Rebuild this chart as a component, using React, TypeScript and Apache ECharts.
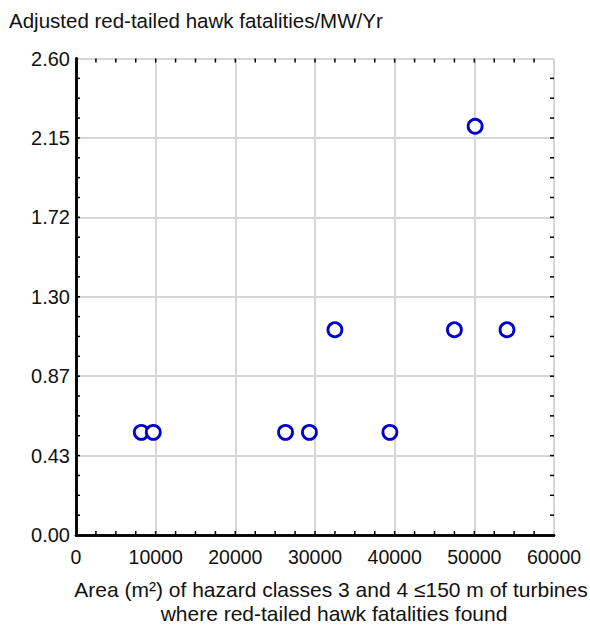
import React, { useEffect, useRef } from "react";
import * as echarts from "echarts";

const areaValues = [8200, 9700, 26300, 29300, 32500, 39400, 47500, 50100, 54100];
const fatalityValues = [0.56, 0.56, 0.56, 0.56, 1.12, 0.56, 1.12, 2.23, 1.12];
const yTickLabels = ["0.00", "0.43", "0.87", "1.30", "1.72", "2.15", "2.60"];
const xTickLabels = ["0", "10000", "20000", "30000", "40000", "50000", "60000"];
const yTitle = "Adjusted red-tailed hawk fatalities/MW/Yr";
const xTitleLines = [
  "Area (m\u00B2) of hazard classes 3 and 4 \u2264150 m of turbines",
  "where red-tailed hawk fatalities found",
];

const FONT = "'Liberation Sans', Arial, Helvetica, sans-serif";
const X_MAX = 60000;
const X_STEP = 10000;
const Y_MAX = 2.6;
const Y_STEP = Y_MAX / 6;
const MINOR_SPLIT = 4;
const TICK_LEN = 4;

// positions of the small inward ticks (every quarter of a major interval)
const xMinorTicks: number[] = [];
for (let i = 1; i < (X_MAX / X_STEP) * MINOR_SPLIT; i++) xMinorTicks.push((i * X_STEP) / MINOR_SPLIT);
const yMinorTicks: number[] = [];
for (let i = 1; i < 6 * MINOR_SPLIT; i++) yMinorTicks.push((i * Y_STEP) / MINOR_SPLIT);

export default function App() {
  const ref = useRef<HTMLDivElement>(null);
  useEffect(() => {
    if (!ref.current) return;
    const chart = echarts.init(ref.current, null, { renderer: "svg" });
    const frameLine = () => ({ show: true, lineStyle: { color: "#000", width: 2.5 } });
    const grid = () => ({ show: true, lineStyle: { color: "#d6d6d6", width: 2 } });
    const xBase = { type: "value", min: 0, max: X_MAX, interval: X_STEP };
    const yBase = { type: "value", min: 0, max: Y_MAX, interval: Y_STEP };
    const tickStyle = { stroke: "#000", lineWidth: 1.5 };

    chart.setOption({
      animation: false,
      textStyle: { fontFamily: FONT },
      grid: { left: 76, right: 36, top: 58.5, bottom: 90, containLabel: false },
      graphic: [
        {
          type: "text",
          left: 9,
          top: 10,
          style: { text: yTitle, font: `20.5px ${FONT}`, fill: "#111" },
        },
        {
          type: "text",
          x: 331,
          y: 589,
          style: {
            text: xTitleLines[0],
            font: `21px ${FONT}`,
            fill: "#111",
            textAlign: "center",
            textVerticalAlign: "middle",
          },
        },
        {
          type: "text",
          x: 334,
          y: 613,
          style: {
            text: xTitleLines[1],
            font: `21px ${FONT}`,
            fill: "#111",
            textAlign: "center",
            textVerticalAlign: "middle",
          },
        },
      ],
      xAxis: [
        {
          ...xBase,
          position: "bottom",
          axisLine: frameLine(),
          axisTick: { show: false },
          splitLine: grid(),
          axisLabel: {
            margin: 12,
            fontSize: 19.5,
            color: "#111",
            fontFamily: FONT,
            formatter: (v: number) => xTickLabels[Math.round(v / X_STEP)] ?? "",
          },
        },
        {
          ...xBase,
          position: "top",
          axisLine: frameLine(),
          axisTick: { show: false },
          splitLine: { show: false },
          axisLabel: { show: false },
        },
      ],
      yAxis: [
        {
          ...yBase,
          position: "left",
          axisLine: frameLine(),
          axisTick: { show: false },
          splitLine: grid(),
          axisLabel: {
            margin: 6,
            fontSize: 20,
            color: "#111",
            fontFamily: FONT,
            padding: [8, 0, 0, 0],
            formatter: (v: number) => yTickLabels[Math.round(v / Y_STEP)] ?? "",
          },
        },
        {
          ...yBase,
          position: "right",
          axisLine: frameLine(),
          axisTick: { show: false },
          splitLine: { show: false },
          axisLabel: { show: false },
        },
      ],
      series: [
        {
          type: "custom",
          name: "xTicks",
          xAxisIndex: 0,
          yAxisIndex: 0,
          silent: true,
          z: 5,
          clip: false,
          data: xMinorTicks.map((v) => [v, 0]),
          renderItem: (params: any, api: any) => {
            const cs = params.coordSys;
            const px = api.coord([api.value(0), 0])[0];
            const top = cs.y;
            const bottom = cs.y + cs.height;
            return {
              type: "group",
              children: [
                { type: "line", shape: { x1: px, y1: bottom, x2: px, y2: bottom - TICK_LEN }, style: tickStyle },
                { type: "line", shape: { x1: px, y1: top, x2: px, y2: top + TICK_LEN }, style: tickStyle },
              ],
            };
          },
        },
        {
          type: "custom",
          name: "yTicks",
          xAxisIndex: 0,
          yAxisIndex: 0,
          silent: true,
          z: 5,
          clip: false,
          data: yMinorTicks.map((v) => [0, v]),
          renderItem: (params: any, api: any) => {
            const cs = params.coordSys;
            const py = api.coord([0, api.value(1)])[1];
            const left = cs.x;
            const right = cs.x + cs.width;
            return {
              type: "group",
              children: [
                { type: "line", shape: { x1: left, y1: py, x2: left + TICK_LEN, y2: py }, style: tickStyle },
                { type: "line", shape: { x1: right, y1: py, x2: right - TICK_LEN, y2: py }, style: tickStyle },
              ],
            };
          },
        },
        {
          type: "scatter",
          xAxisIndex: 0,
          yAxisIndex: 0,
          symbol: "circle",
          symbolSize: 14,
          z: 10,
          itemStyle: { color: "#ffffff", borderColor: "#0000cd", borderWidth: 2.8, opacity: 1 },
          data: areaValues.map((x, i) => [x, fatalityValues[i]]),
        },
      ],
    });
    return () => chart.dispose();
  }, []);
  return (
    <div
      ref={ref}
      style={{ position: "absolute", left: 0, top: 0, width: 590, height: 625 }}
    />
  );
}
